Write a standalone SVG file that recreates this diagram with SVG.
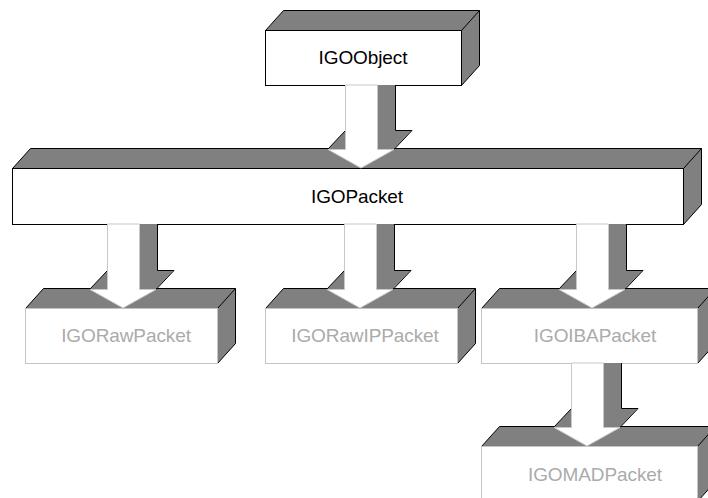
<svg xmlns="http://www.w3.org/2000/svg" width="708" height="498" viewBox="0 0 708 498">
  <style>
    .face { fill: #ffffff; }
    .face.on { stroke: #000000; stroke-width: 1; }
    .face.off { stroke: #c4c4c4; stroke-width: 1; }
    .shade { fill: #808080; stroke: none; }
    .rim { fill: none; stroke: #000000; stroke-width: 1; stroke-linejoin: miter; }
    .label { font-family: "Liberation Sans", Arial, sans-serif; font-size: 19px; letter-spacing: -0.1px; text-anchor: middle; }
    .label.on { fill: #000000; }
    .label.off { fill: #ababab; }
    .shaft { fill: #ffffff; stroke: #c8c8c8; stroke-width: 1; }
    .side { fill: #808080; stroke: none; }
    .edge { fill: none; stroke: #000000; stroke-width: 1; }
  </style>

  <!-- Class boxes: front face, top face and right face of an extruded block -->
  <g id="IGOObject">
    <polygon class="shade" points="265.5,30.5 283.5,10.5 479.5,10.5 479.5,65.5 461.5,85.5 461.5,30.5"/>
    <polyline class="rim" points="265.5,30.5 283.5,10.5 479.5,10.5 479.5,65.5 461.5,85.5"/>
    <line class="rim" x1="461.5" y1="30.5" x2="479.5" y2="10.5"/>
    <rect class="face on" x="265.5" y="30.5" width="196" height="55"/>
    <text class="label on" x="363" y="64">IGOObject</text>
  </g>

  <g id="IGOPacket">
    <polygon class="shade" points="12.5,168.5 30.5,148.5 701.5,148.5 701.5,204.5 683.5,224.5 683.5,168.5"/>
    <polyline class="rim" points="12.5,168.5 30.5,148.5 701.5,148.5 701.5,204.5 683.5,224.5"/>
    <line class="rim" x1="683.5" y1="168.5" x2="701.5" y2="148.5"/>
    <rect class="face on" x="12.5" y="168.5" width="671" height="56"/>
    <text class="label on" x="357" y="203">IGOPacket</text>
  </g>

  <g id="IGORawPacket">
    <polygon class="shade" points="25.5,308.5 43.5,288.5 235.5,288.5 235.5,343.5 217.5,363.5 217.5,308.5"/>
    <polyline class="rim" points="25.5,308.5 43.5,288.5 235.5,288.5 235.5,343.5 217.5,363.5"/>
    <line class="rim" x1="217.5" y1="308.5" x2="235.5" y2="288.5"/>
    <rect class="face off" x="25.5" y="308.5" width="192" height="55"/>
    <text class="label off" x="126" y="342">IGORawPacket</text>
  </g>

  <g id="IGORawIPPacket">
    <polygon class="shade" points="265.5,308.5 283.5,288.5 475.5,288.5 475.5,343.5 457.5,363.5 457.5,308.5"/>
    <polyline class="rim" points="265.5,308.5 283.5,288.5 475.5,288.5 475.5,343.5 457.5,363.5"/>
    <line class="rim" x1="457.5" y1="308.5" x2="475.5" y2="288.5"/>
    <rect class="face off" x="265.5" y="308.5" width="192" height="55"/>
    <text class="label off" x="365" y="342">IGORawIPPacket</text>
  </g>

  <g id="IGOIBAPacket">
    <polygon class="shade" points="481.5,308.5 499.5,288.5 715.5,288.5 715.5,343.5 697.5,363.5 697.5,308.5"/>
    <polyline class="rim" points="481.5,308.5 499.5,288.5 715.5,288.5 715.5,343.5 697.5,363.5"/>
    <line class="rim" x1="697.5" y1="308.5" x2="715.5" y2="288.5"/>
    <rect class="face off" x="481.5" y="308.5" width="216" height="55"/>
    <text class="label off" x="595" y="342">IGOIBAPacket</text>
  </g>

  <g id="IGOMADPacket">
    <polygon class="shade" points="481.5,446.5 499.5,426.5 715.5,426.5 715.5,481.5 697.5,501.5 697.5,446.5"/>
    <polyline class="rim" points="481.5,446.5 499.5,426.5 715.5,426.5 715.5,481.5 697.5,501.5"/>
    <line class="rim" x1="697.5" y1="446.5" x2="715.5" y2="426.5"/>
    <rect class="face off" x="481.5" y="446.5" width="216" height="55"/>
    <text class="label off" x="595" y="481">IGOMADPacket</text>
  </g>

  <!-- Inheritance arrows: extruded block arrows, base class below -->
  <g id="connectors">
    <!-- IGOObject -> IGOPacket (cx 361, from 85 to 168) -->
    <g id="arrow-object-packet">
      <polygon class="side" points="377,85 395,85 395,130 412,130 394,149 377,149"/>
      <polyline class="edge" points="395.5,85 395.5,130.5 412,130.5 394,149.5"/>
      <polygon class="side" points="328,149 345,149 345,131"/>
      <line class="edge" x1="328" y1="149" x2="345" y2="131"/>
      <polygon class="shaft" points="345.5,85 377.5,85 377.5,149.5 394,149.5 361,168 328,149.5 345.5,149.5"/>
    </g>
    <!-- IGOPacket -> IGORawPacket (cx 123) -->
    <g id="arrow-packet-raw">
      <polygon class="side" points="139,224 157,224 157,270 174,270 156,289 139,289"/>
      <polyline class="edge" points="157.5,224 157.5,270.5 174,270.5 156,289.5"/>
      <polygon class="side" points="90,289 107,289 107,271"/>
      <line class="edge" x1="90" y1="289" x2="107" y2="271"/>
      <polygon class="shaft" points="107.5,224 139.5,224 139.5,289.5 156,289.5 123,308 90,289.5 107.5,289.5"/>
    </g>
    <!-- IGOPacket -> IGORawIPPacket (cx 360) -->
    <g id="arrow-packet-rawip">
      <polygon class="side" points="376,224 394,224 394,270 411,270 393,289 376,289"/>
      <polyline class="edge" points="394.5,224 394.5,270.5 411,270.5 393,289.5"/>
      <polygon class="side" points="327,289 344,289 344,271"/>
      <line class="edge" x1="327" y1="289" x2="344" y2="271"/>
      <polygon class="shaft" points="344.5,224 376.5,224 376.5,289.5 393,289.5 360,308 327,289.5 344.5,289.5"/>
    </g>
    <!-- IGOPacket -> IGOIBAPacket (cx 592) -->
    <g id="arrow-packet-iba">
      <polygon class="side" points="608,224 626,224 626,270 643,270 625,289 608,289"/>
      <polyline class="edge" points="626.5,224 626.5,270.5 643,270.5 625,289.5"/>
      <polygon class="side" points="559,289 576,289 576,271"/>
      <line class="edge" x1="559" y1="289" x2="576" y2="271"/>
      <polygon class="shaft" points="576.5,224 608.5,224 608.5,289.5 625,289.5 592,308 559,289.5 576.5,289.5"/>
    </g>
    <!-- IGOIBAPacket -> IGOMADPacket (cx 587) -->
    <g id="arrow-iba-mad">
      <polygon class="side" points="603,363 621,363 621,408 638,408 620,427 603,427"/>
      <polyline class="edge" points="621.5,363 621.5,408.5 638,408.5 620,427.5"/>
      <polygon class="side" points="554,427 571,427 571,409"/>
      <line class="edge" x1="554" y1="427" x2="571" y2="409"/>
      <polygon class="shaft" points="571.5,363 603.5,363 603.5,427.5 620,427.5 587,446 554,427.5 571.5,427.5"/>
    </g>
  </g>
</svg>
